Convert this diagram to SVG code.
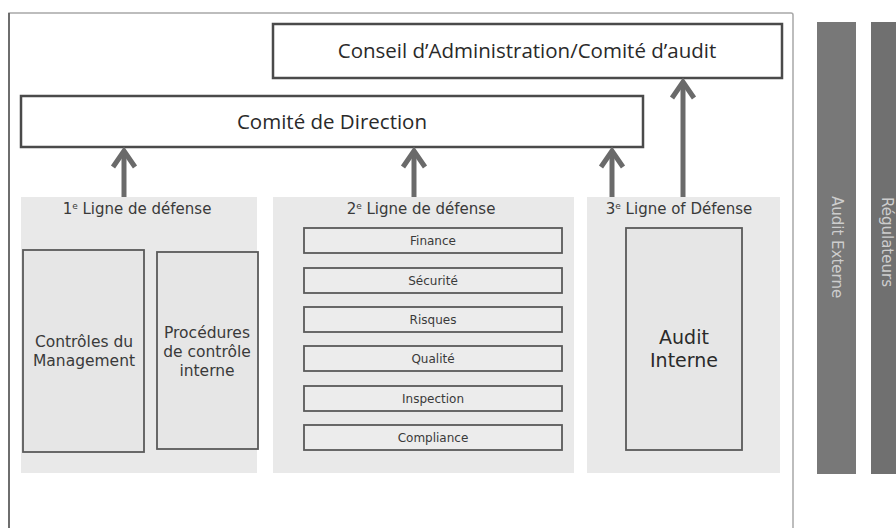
<svg xmlns="http://www.w3.org/2000/svg" width="896" height="528" viewBox="0 0 896 528">
<style>
.box{fill:#fff;stroke:#4a4a4a;stroke-width:2.5}
.panel{fill:#e9e9e9}
.inner{fill:#e6e6e6;stroke:#5a5a5a;stroke-width:1.8}
.item{fill:#ececec;stroke:#5a5a5a;stroke-width:1.8}
.big{font-family:"Open Sans","Liberation Sans",sans-serif;font-size:20.5px;font-weight:500;fill:#2a2a2a;text-anchor:middle}
.ttl{font-family:"DejaVu Sans",sans-serif;font-size:15px;fill:#3a3a3a;text-anchor:middle}
.mid{font-family:"DejaVu Sans",sans-serif;font-size:15.5px;fill:#3a3a3a;text-anchor:middle}
.sm{font-family:"DejaVu Sans",sans-serif;font-size:12px;fill:#3a3a3a;text-anchor:middle}
.ai{font-family:"DejaVu Sans",sans-serif;font-size:19px;fill:#2a2a2a;text-anchor:middle}
.vt{font-family:"DejaVu Sans",sans-serif;font-size:15px;fill:#cdcdcd}
.shaft{stroke:#6a6a6a;stroke-width:5;fill:none}
.head{stroke:#6a6a6a;stroke-width:5;fill:none;stroke-linejoin:miter}
</style>
<rect width="896" height="528" fill="#fff"/>
<g id="frame">
<path d="M9,528 V13 H791 Q793,13 793,15 V528" fill="none" stroke="#a8a8a8" stroke-width="1.5"/>
<line x1="9" y1="13" x2="9" y2="528" stroke="#555" stroke-width="1.5"/>
</g>
<g id="conseil">
<rect class="box" x="273" y="24" width="509" height="54"/>
<text class="big" x="527" y="58">Conseil d’Administration/Comité d’audit</text>
</g>
<g id="direction">
<rect class="box" x="21" y="96" width="622" height="51"/>
<text class="big" x="332" y="129">Comité de Direction</text>
</g>
<g id="ligne1">
<rect class="panel" x="21" y="197" width="236" height="276"/>
<text class="ttl" x="137" y="214">1<tspan font-size="9" dy="-5">e</tspan><tspan dy="5"> Ligne de défense</tspan></text>
<g id="controles">
<rect class="inner" x="23" y="250" width="121" height="202"/>
<text class="mid" x="84" y="347">Contrôles du</text>
<text class="mid" x="84" y="366">Management</text>
</g>
<g id="procedures">
<rect class="inner" x="157" y="252" width="101" height="197"/>
<text class="mid" x="207" y="338">Procédures</text>
<text class="mid" x="207" y="357">de contrôle</text>
<text class="mid" x="207" y="376">interne</text>
</g>
</g>
<g id="ligne2">
<rect class="panel" x="273" y="197" width="301" height="276"/>
<text class="ttl" x="421" y="214">2<tspan font-size="9" dy="-5">e</tspan><tspan dy="5"> Ligne de défense</tspan></text>
<g id="finance"><rect class="item" x="304" y="228" width="258" height="25"/><text class="sm" x="433" y="245">Finance</text></g>
<g id="securite"><rect class="item" x="304" y="268" width="258" height="25"/><text class="sm" x="433" y="285">Sécurité</text></g>
<g id="risques"><rect class="item" x="304" y="307" width="258" height="25"/><text class="sm" x="433" y="324">Risques</text></g>
<g id="qualite"><rect class="item" x="304" y="346" width="258" height="25"/><text class="sm" x="433" y="363">Qualité</text></g>
<g id="inspection"><rect class="item" x="304" y="386" width="258" height="25"/><text class="sm" x="433" y="403">Inspection</text></g>
<g id="compliance"><rect class="item" x="304" y="425" width="258" height="25"/><text class="sm" x="433" y="442">Compliance</text></g>
</g>
<g id="ligne3">
<rect class="panel" x="587" y="197" width="193" height="276"/>
<text class="ttl" x="679" y="214">3<tspan font-size="9" dy="-5">e</tspan><tspan dy="5"> Ligne of Défense</tspan></text>
<g id="auditinterne">
<rect class="inner" x="626" y="228" width="116" height="222"/>
<text class="ai" x="684" y="344">Audit</text>
<text class="ai" x="684" y="367">Interne</text>
</g>
</g>
<g id="auditexterne">
<rect x="817" y="22" width="39" height="452" fill="#787878"/>
<text class="vt" transform="translate(832,196) rotate(90)">Audit Externe</text>
</g>
<g id="regulateurs">
<rect x="871" y="22" width="30" height="452" fill="#707070"/>
<text class="vt" transform="translate(882,197) rotate(90)">Régulateurs</text>
</g>
<g id="connectors">
<line class="shaft" x1="124" y1="197" x2="124" y2="152"/>
<path class="head" d="M113,167 L124,151 L135,167"/>
<line class="shaft" x1="414" y1="197" x2="414" y2="152"/>
<path class="head" d="M403,167 L414,151 L425,167"/>
<line class="shaft" x1="612" y1="197" x2="612" y2="152"/>
<path class="head" d="M601,167 L612,151 L623,167"/>
<line class="shaft" x1="683" y1="197" x2="683" y2="83"/>
<path class="head" d="M672,98 L683,82 L694,98"/>
</g>
</svg>
